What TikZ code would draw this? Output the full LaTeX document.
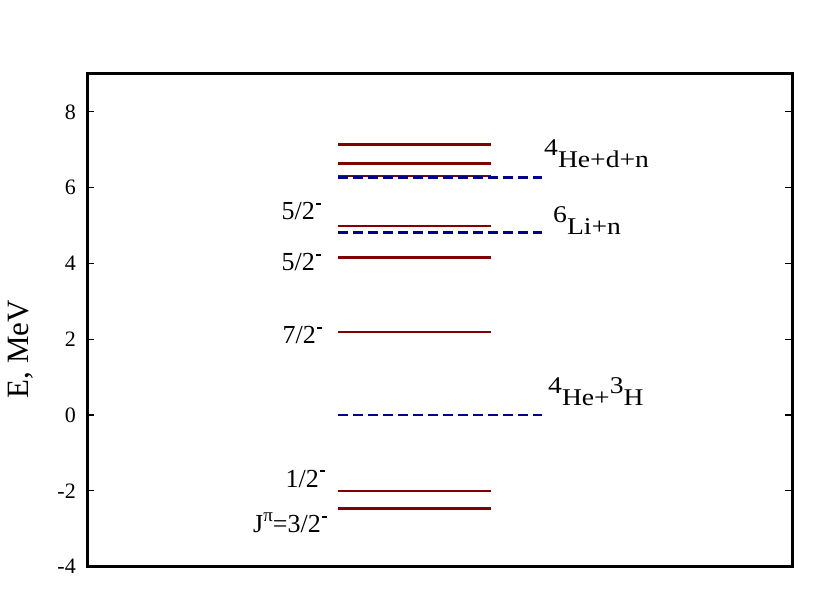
\documentclass[tikz,border=0pt]{standalone}
\usepackage{fontspec}
\setmainfont{Liberation Serif}
\newfontfamily\widefont[FakeStretch=1.15]{Liberation Serif}
\usetikzlibrary{positioning}
\definecolor{lvlred}{RGB}{128,0,0}
\definecolor{chblue}{RGB}{0,0,139}
\newcommand{\parneg}{\kern1pt\raisebox{15pt}{\rule{5pt}{1.8pt}}}
\newcommand{\upnum}[1]{\raisebox{12pt}{#1}}

\begin{document}
\begin{tikzpicture}[x=1pt, y=37.9pt,
    lvl/.style={lvlred, line width=2.6pt},
    chan/.style={chblue, line width=2.6pt, dash pattern=on 10pt off 5pt},
    jlab/.style={anchor=base east, inner sep=0pt, font=\fontsize{26}{26}\selectfont},
    chlab/.style={anchor=base west, inner sep=0pt, font=\widefont\fontsize{24}{24}\selectfont}]
  \useasboundingbox (0,-5.013) rectangle (830,10.950);

  % frame and ticks
  \draw[line width=3pt] (87,-4) rectangle (792,9.02);
  \foreach \e in {-2,0,...,8} {
    \draw[line width=1.2pt] (87,\e) -- (94,\e);
    \draw[line width=1.2pt] (792,\e) -- (785,\e);
  }
  \foreach \e in {-4,-2,...,8}
    \node[anchor=east, inner sep=0pt, font=\fontsize{22}{22}\selectfont] (tick\e) at (76,\e) {\e};
  \node[rotate=90, font=\fontsize{31}{31}\selectfont] (ylab) at (21,1.74) {E, MeV};

  % levels
  \foreach \e in {7.13,6.64,6.31,4.99,4.16,2.19,-2.00,-2.47}
    \draw[lvl] (338,\e) -- (491,\e);
  % thresholds
  \foreach \e in {6.26,4.81,0}
    \draw[chan] (338,\e) -- (542,\e);

  % spins
  \node[jlab] (j52a) at (321,5.15) {5/2\parneg};
  \node[jlab] (j52b) at (321,3.80) {5/2\parneg};
  \node[jlab] (j72) at (322,1.88) {7/2\parneg};
  \node[jlab] (j12) at (325,-1.90) {1/2\parneg};
  \node[jlab] (j32) at (327,-3.11) {J\raisebox{11pt}{\fontsize{19}{19}\selectfont π}=3/2\parneg};

  % channels
  \node[chlab] (hedn) at (544,6.52) {\upnum{4}He+d+n};
  \node[chlab] (lin) at (553,4.76) {\upnum{6}Li+n};
  \node[chlab] (het) at (548,0.24) {\upnum{4}He+\upnum{3}H};
\end{tikzpicture}
\end{document}
